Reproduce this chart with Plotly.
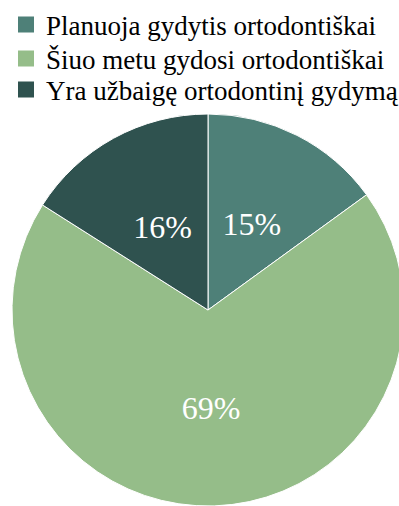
import plotly.graph_objects as go

labels = ["Planuoja gydytis ortodontiškai", "Šiuo metu gydosi ortodontiškai", "Yra užbaigę ortodontinį gydymą"]
values = [15, 69, 16]
text_labels = ["15%", "69%", "16%"]
colors = ["#4E8078", "#95BD89", "#2F524F"]

FONT = "Liberation Serif"
W, H = 410, 506
CX, CY, R = 208, 310, 196      # pie centre (px from left / top) and radius
R2 = 140                        # helper radius for the small-slice labels
big = [v >= 50 for v in values]

def dom(r):
    return dict(x=[(CX - r) / W, (CX + r) / W], y=[(H - CY - r) / H, (H - CY + r) / H])

fig = go.Figure()
fig.add_trace(go.Pie(
    labels=labels, values=values,
    text=[t if b else "" for t, b in zip(text_labels, big)],
    textinfo="text", textposition="inside", insidetextorientation="horizontal",
    insidetextfont=dict(family=FONT, size=32, color="white"),
    sort=False, direction="clockwise", rotation=0,
    marker=dict(colors=colors, line=dict(color="white", width=1)),
    domain=dom(R), hoverinfo="skip", showlegend=False,
))
fig.add_trace(go.Pie(
    labels=labels, values=values,
    text=[t if not b else "" for t, b in zip(text_labels, big)],
    textinfo="text", textposition="inside", insidetextorientation="horizontal",
    insidetextfont=dict(family=FONT, size=32, color="white"),
    sort=False, direction="clockwise", rotation=0,
    marker=dict(colors=["rgba(0,0,0,0)"] * 3, line=dict(width=0)),
    domain=dom(R2), hoverinfo="skip", showlegend=False,
))

legend_rows = [25, 59, 90]
lay = {}
for i, (lab, col) in enumerate(zip(labels, colors)):
    lg = "legend" if i == 0 else f"legend{i+1}"
    fig.add_trace(go.Scatter(
        x=[None], y=[None], mode="markers", name=lab, legend=lg,
        marker=dict(symbol="square", size=16, color=col), hoverinfo="skip",
    ))
    lay[lg] = dict(
        x=6 / W, y=1 - legend_rows[i] / H, xanchor="left", yanchor="middle",
        font=dict(family=FONT, size=27, color="black"),
        itemsizing="trace", bgcolor="rgba(0,0,0,0)",
    )

fig.update_layout(
    width=W, height=H,
    margin=dict(l=0, r=0, t=0, b=0),
    paper_bgcolor="white", plot_bgcolor="white",
    xaxis=dict(visible=False), yaxis=dict(visible=False),
    **lay,
)
fig.write_html("out.html", post_script="document.body.style.overflow='hidden';document.body.style.margin='0';")
